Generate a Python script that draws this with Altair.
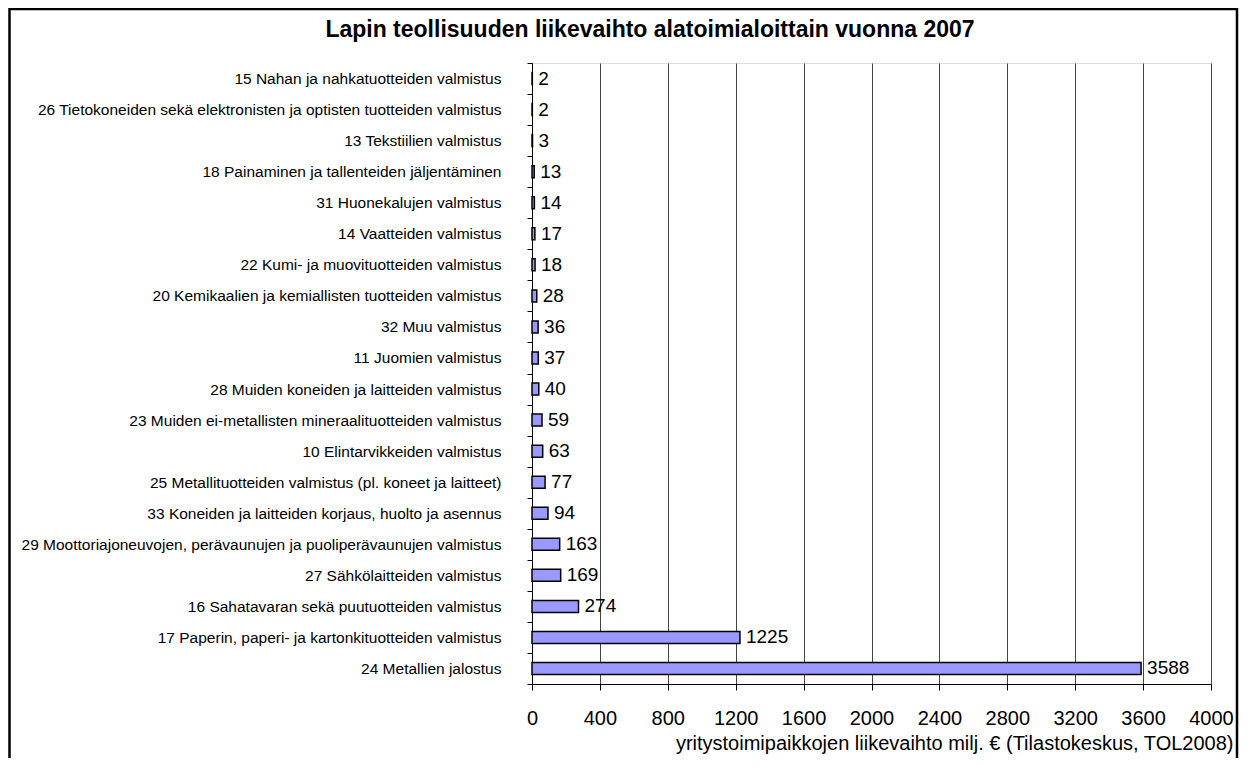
import altair as alt
import pandas as pd

title_text = "Lapin teollisuuden liikevaihto alatoimialoittain vuonna 2007"
x_title = "yritystoimipaikkojen liikevaihto milj. € (Tilastokeskus, TOL2008)"

categories = [
    "15 Nahan ja nahkatuotteiden valmistus",
    "26 Tietokoneiden sekä elektronisten ja optisten tuotteiden valmistus",
    "13 Tekstiilien valmistus",
    "18 Painaminen ja tallenteiden jäljentäminen",
    "31 Huonekalujen valmistus",
    "14 Vaatteiden valmistus",
    "22 Kumi- ja muovituotteiden valmistus",
    "20 Kemikaalien ja kemiallisten tuotteiden valmistus",
    "32 Muu valmistus",
    "11 Juomien valmistus",
    "28 Muiden koneiden ja laitteiden valmistus",
    "23 Muiden ei-metallisten mineraalituotteiden valmistus",
    "10 Elintarvikkeiden valmistus",
    "25 Metallituotteiden valmistus (pl. koneet ja laitteet)",
    "33 Koneiden ja laitteiden korjaus, huolto ja asennus",
    "29 Moottoriajoneuvojen, perävaunujen ja puoliperävaunujen valmistus",
    "27 Sähkölaitteiden valmistus",
    "16 Sahatavaran sekä puutuotteiden valmistus",
    "17 Paperin, paperi- ja kartonkituotteiden valmistus",
    "24 Metallien jalostus",
]
values = [2, 2, 3, 13, 14, 17, 18, 28, 36, 37, 40, 59, 63, 77, 94, 163, 169, 274, 1225, 3588]
x_ticks = [0, 400, 800, 1200, 1600, 2000, 2400, 2800, 3200, 3600, 4000]

df = pd.DataFrame({"cat": categories, "val": values})

FONT = "Liberation Sans"
W, H = 679, 621

x_scale = alt.Scale(domain=[0, 4000], nice=False)
y_enc = alt.Y(
    "cat:N",
    sort=categories,
    scale=alt.Scale(paddingInner=0, paddingOuter=0),
    axis=alt.Axis(
        title=None,
        labelFont=FONT,
        labelFontSize=15.5,
        labelColor="black",
        labelPadding=26,
        labelLimit=600,
        tickBand="extent",
        tickSize=5,
        tickColor="black",
        domainColor="black",
        grid=False,
    ),
)

bars = alt.Chart(df).mark_bar(
    size=12, fill="#9999FF", stroke="black", strokeWidth=1.5
).encode(
    x=alt.X(
        "val:Q",
        scale=x_scale,
        axis=alt.Axis(
            values=x_ticks,
            format="d",
            title=x_title,
            titleFont=FONT,
            titleFontSize=20,
            titleFontWeight="normal",
            titleColor="black",
            titleAlign="right",
            titleAnchor="end",
            titleX=701,
            titleY=59,
            titleBaseline="middle",
            labelFont=FONT,
            labelFontSize=20,
            labelColor="black",
            labelBaseline="middle",
            labelPadding=28,
            labelFlush=False,
            tickSize=6,
            tickColor="black",
            domainColor="black",
            grid=True,
            gridColor="#444444",
            gridWidth=1,
        ),
    ),
    y=y_enc,
)

labels = alt.Chart(df).mark_text(
    align="left", baseline="middle", dx=6, font=FONT, fontSize=19, color="black"
).encode(
    x=alt.X("val:Q", scale=x_scale),
    y=alt.Y("cat:N", sort=categories),
    text=alt.Text("val:Q"),
)

title = alt.Chart(pd.DataFrame({"t": [title_text]})).mark_text(
    align="center", baseline="middle", font=FONT, fontSize=23, fontWeight="bold", color="black"
).encode(
    x=alt.value(118),
    y=alt.value(-33),
    text="t:N",
)

border = alt.Chart(pd.DataFrame({"a": [0]})).mark_rect(
    fill=None, stroke="black", strokeWidth=2.5
).encode(
    x=alt.value(-522.5),
    x2=alt.value(705),
    y=alt.value(-54),
    y2=alt.value(720),
)

chart = alt.layer(bars, labels, title, border).properties(
    width=W,
    height=H,
    autosize=alt.AutoSizeParams(type="none"),
    padding={"left": 524, "top": 55, "right": 30, "bottom": 74},
).configure_view(stroke=None).configure(background="white")

chart.save("out.html", embed_options={"renderer": "svg", "actions": False})
